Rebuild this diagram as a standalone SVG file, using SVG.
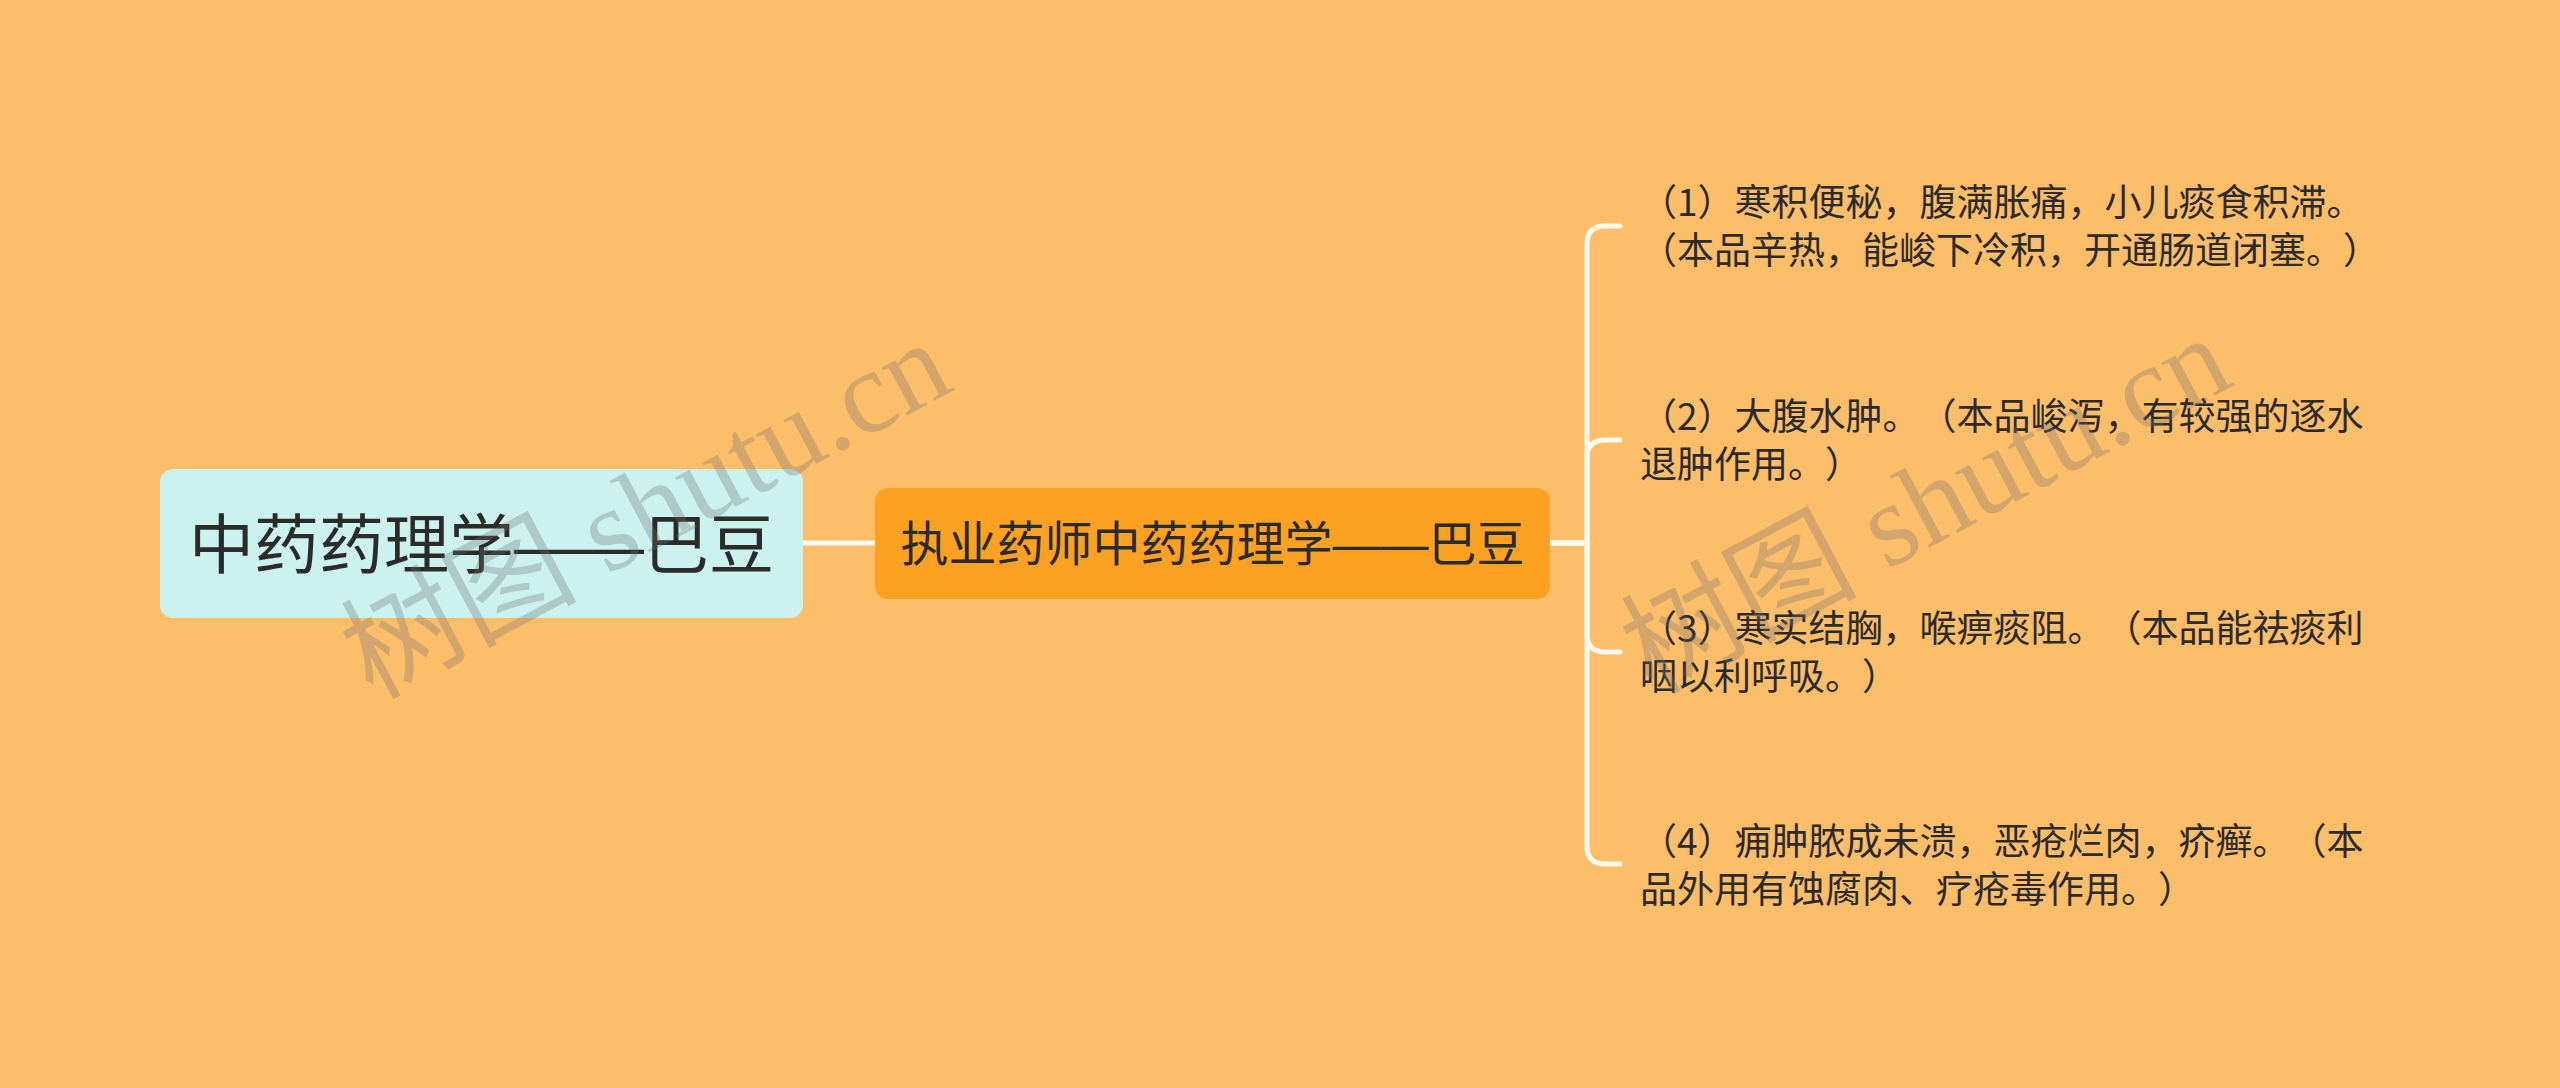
<svg xmlns="http://www.w3.org/2000/svg" width="2560" height="1088" viewBox="0 0 2560 1088">
<style>
.cjk{font-family:"Noto Sans CJK SC","Noto Sans",sans-serif;fill:#2b2b2b;text-spacing-trim:space-all;font-feature-settings:"chws" 0,"halt" 0,"palt" 0}
.dash{font-family:"Liberation Sans","Noto Sans CJK SC",sans-serif}
.root-t{font-size:65px}
.mid-t{font-size:48px}
.leaf-t{font-size:37px}
.conn{fill:none;stroke:#FFF8EE;stroke-width:5;stroke-linecap:round;stroke-linejoin:round}
.wm{font-family:"Liberation Serif","Noto Sans CJK SC",serif;font-size:118px;fill:#6e6e6e;fill-opacity:0.3}
</style>
<rect width="2560" height="1088" fill="#FDBE6A"/>
<g id="connectors">
<path class="conn" d="M803 543 H875"/>
<path class="conn" d="M1550 543 H1587 V244 Q1587 226 1605 226 H1620"/>
<path class="conn" d="M1550 543 H1587 V458 Q1587 440 1605 440 H1620"/>
<path class="conn" d="M1550 543 H1587 V634 Q1587 652 1605 652 H1620"/>
<path class="conn" d="M1550 543 H1587 V846 Q1587 864 1605 864 H1620"/>
</g>
<g id="root">
<rect x="160" y="469" width="643" height="149" rx="13" fill="#CBF2EF"/>
<text class="cjk root-t" x="481.5" y="568" text-anchor="middle">中药药理学<tspan class="dash">——</tspan>巴豆</text>
</g>
<g id="main">
<rect x="875" y="488" width="675" height="111" rx="13" fill="#FDA123"/>
<text class="cjk mid-t" x="1212.5" y="561" text-anchor="middle">执业药师中药药理学<tspan class="dash">——</tspan>巴豆</text>
</g>
<g id="leaf1">
<text class="cjk leaf-t" x="1640" y="216">（1）寒积便秘，腹满胀痛，小儿痰食积滞。</text>
<text class="cjk leaf-t" x="1640" y="264">（本品辛热，能峻下冷积，开通肠道闭塞。）</text>
</g>
<g id="leaf2">
<text class="cjk leaf-t" x="1640" y="430">（2）大腹水肿。（本品峻泻，有较强的逐水</text>
<text class="cjk leaf-t" x="1640" y="478">退肿作用。）</text>
</g>
<g id="leaf3">
<text class="cjk leaf-t" x="1640" y="642">（3）寒实结胸，喉痹痰阻。（本品能祛痰利</text>
<text class="cjk leaf-t" x="1640" y="690">咽以利呼吸。）</text>
</g>
<g id="leaf4">
<text class="cjk leaf-t" x="1640" y="855">（4）痈肿脓成未溃，恶疮烂肉，疥癣。（本</text>
<text class="cjk leaf-t" x="1640" y="903">品外用有蚀腐肉、疗疮毒作用。）</text>
</g>
<g id="watermarks">
<text class="wm" transform="translate(372 700) rotate(-28)">树图 shutu.cn</text>
<text class="wm" transform="translate(1652 695) rotate(-28)">树图 shutu.cn</text>
</g>
</svg>
